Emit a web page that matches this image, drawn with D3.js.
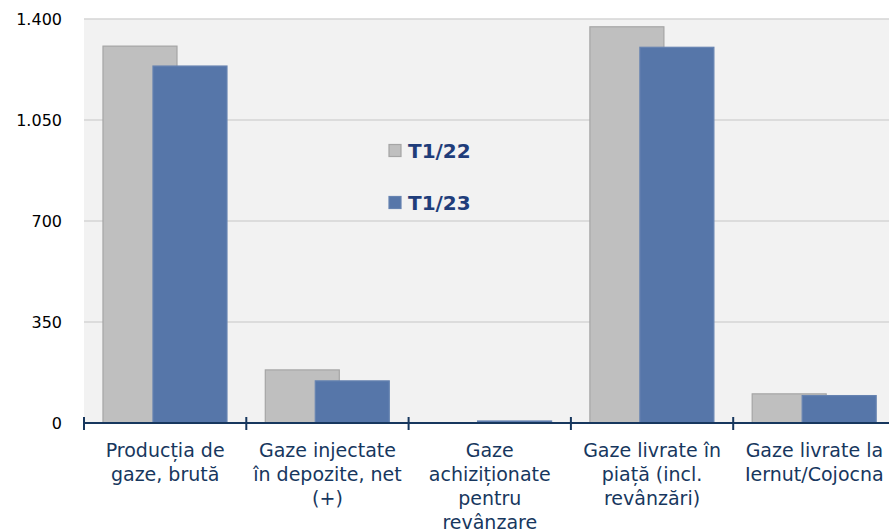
<!DOCTYPE html>
<html><head><meta charset="utf-8">
<script src="https://cdn.jsdelivr.net/npm/d3@7"></script>
<style>body{margin:0;background:#fff}svg{display:block}</style>
</head><body>
<script>
const categories = [
  ["Producția de", "gaze, brută"],
  ["Gaze injectate", "în depozite, net", "(+)"],
  ["Gaze", "achiziționate", "pentru", "revânzare"],
  ["Gaze livrate în", "piață (incl.", "revânzări)"],
  ["Gaze livrate la", "Iernut/Cojocna"]
];
const seriesNames = ["T1/22", "T1/23"];
const valuesT122 = [1306, 184, 1, 1373, 101];
const valuesT123 = [1237, 146, 7, 1302, 95];
const yTicks = [0, 350, 700, 1050, 1400];
const fmt = v => d3.format(",")(v).replace(/,/g, ".");

const W = 889, H = 532;
const svg = d3.select("body").append("svg").attr("width", W).attr("height", H);
const plotLeft = 84, plotTop = 19, plotBottom = 423, bandW = 162.3;
const keys = categories.map((c, i) => i);
const x = d3.scaleBand().domain(keys).range([plotLeft, plotLeft + bandW * keys.length]).paddingInner(0).paddingOuter(0);
const y = d3.scaleLinear().domain([0, 1400]).range([plotBottom, plotTop]);

// plot background
svg.append("rect").attr("x", plotLeft).attr("y", plotTop).attr("width", W - plotLeft).attr("height", plotBottom - plotTop).attr("fill", "#f2f2f2");
// gridlines
svg.append("g").selectAll("line").data(yTicks.filter(d => d > 0)).join("line")
  .attr("x1", plotLeft).attr("x2", W).attr("y1", d => y(d)).attr("y2", d => y(d))
  .attr("stroke", "#d4d4d4").attr("stroke-width", 1.5);
// y labels
svg.append("g").selectAll("text").data(yTicks).join("text")
  .attr("x", 62).attr("y", d => y(d)).attr("dy", "0.36em").attr("text-anchor", "end")
  .attr("font-family", "DejaVu Sans").attr("font-size", 16).attr("fill", "#000").text(fmt);

const bw = x.bandwidth();
const barW = bw * 0.456, off0 = bw * 0.117, shift = bw * 0.308;
const colors = ["#bfbfbf", "#5676a9"];
const strokes = ["#a5a5a5", "#6683b1"];
[valuesT122, valuesT123].forEach((vals, s) => {
  svg.append("g").selectAll("rect").data(vals).join("rect")
    .attr("x", (d, i) => x(i) + off0 + s * shift)
    .attr("y", d => y(d))
    .attr("width", barW)
    .attr("height", d => plotBottom - y(d))
    .attr("fill", colors[s]).attr("stroke", strokes[s]).attr("stroke-width", 1.2);
});

// x axis
const axisColor = "#17375e";
svg.append("line").attr("x1", plotLeft).attr("x2", W).attr("y1", plotBottom).attr("y2", plotBottom)
  .attr("stroke", axisColor).attr("stroke-width", 2);
const bounds = keys.map(k => x(k)).concat([x.range()[1]]);
svg.append("g").selectAll("line").data(bounds).join("line")
  .attr("x1", d => d).attr("x2", d => d).attr("y1", plotBottom - 6).attr("y2", plotBottom + 7)
  .attr("stroke", axisColor).attr("stroke-width", 2);
// x labels
const lab = svg.append("g").attr("font-family", "DejaVu Sans").attr("font-size", 19).attr("fill", "#17375e").attr("text-anchor", "middle");
categories.forEach((lines, i) => {
  const t = lab.append("text").attr("x", x(i) + bw / 2);
  lines.forEach((l, j) => t.append("tspan").attr("x", x(i) + bw / 2).attr("y", 457 + j * 24).text(l));
});

// legend
const leg = svg.append("g");
seriesNames.forEach((n, s) => {
  const cy = 151 + s * 52;
  leg.append("rect").attr("x", 389).attr("y", cy - 6.5).attr("width", 12).attr("height", 12)
    .attr("fill", colors[s]).attr("stroke", strokes[s]).attr("stroke-width", 1.2);
  leg.append("text").attr("x", 408).attr("y", cy).attr("dy", "0.36em")
    .attr("font-family", "DejaVu Sans").attr("font-weight", "bold").attr("font-size", 20)
    .attr("fill", "#1f3d7a").text(n);
});
</script>
</body></html>
